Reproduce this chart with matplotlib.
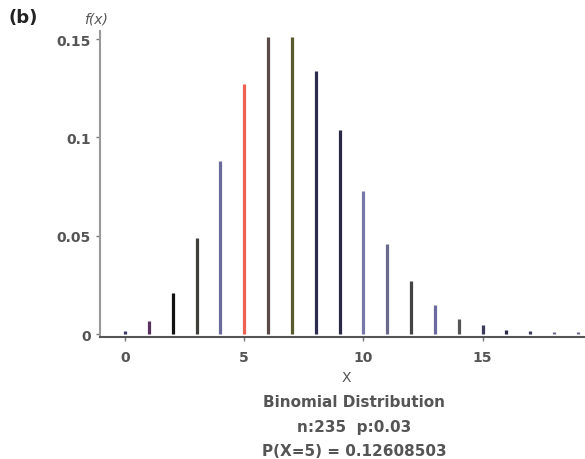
import matplotlib
matplotlib.use("Agg")
import matplotlib.pyplot as plt

# values
xs = list(range(20))
probs = [0.0015, 0.0066, 0.021, 0.049, 0.088, 0.127, 0.151, 0.151, 0.134, 0.104,
         0.073, 0.046, 0.027, 0.015, 0.0077, 0.0045, 0.0022, 0.0014, 0.0012, 0.0012]
bar_colors = ['#3a3a6a', '#5a3060', '#111111', '#3f3f3a', '#6a6a9c', '#ee6050',
              '#5a4a48', '#5a5a30', '#2c2c50', '#2a2a48', '#7878a8', '#6a6a8c',
              '#444444', '#6a6aa0', '#555555', '#3a3a5a', '#2a2a48', '#3a3a5a',
              '#6a6a8c', '#6a6a8c']
xticks = [0, 5, 10, 15]
yticks = [0, 0.05, 0.1, 0.15]
yticklabels = ['0', '0.05', '0.1', '0.15']

gray = '#555555'
fig = plt.figure(figsize=(5.85, 4.6), dpi=100)
ax = fig.add_axes([0.171, 0.265, 0.829, 0.665])

ax.vlines(xs, 0, probs, colors=bar_colors, linewidth=2.3)

ax.set_xlim(-1.05, 19.3)
ax.set_ylim(-0.0015, 0.154)
ax.set_xticks(xticks)
ax.set_yticks(yticks)
ax.set_yticklabels(yticklabels)
for s in ['top', 'right']:
    ax.spines[s].set_visible(False)
ax.spines['left'].set_color('#999999')
ax.spines['left'].set_linewidth(1.5)
ax.spines['bottom'].set_color('#555555')
ax.spines['bottom'].set_linewidth(1.5)
ax.tick_params(length=3, width=1, colors='#777777', labelcolor=gray, labelsize=10)
ax.tick_params(axis='x', pad=6)
for lab in ax.get_xticklabels() + ax.get_yticklabels():
    lab.set_fontweight('bold')

fig.text(0.015, 0.96, '(b)', fontsize=13, fontweight='bold', color='#222222', va='center')
fig.text(0.143, 0.958, 'f(x)', fontsize=10, style='italic', color=gray, va='center')
fig.text(0.592, 0.178, 'X', fontsize=10, color=gray, ha='center', va='center')
fig.text(0.605, 0.124, 'Binomial Distribution', fontsize=11, fontweight='bold',
         color=gray, ha='center', va='center')
fig.text(0.605, 0.070, 'n:235  p:0.03', fontsize=11, fontweight='bold',
         color=gray, ha='center', va='center')
fig.text(0.605, 0.018, 'P(X=5) = 0.12608503', fontsize=11, fontweight='bold',
         color=gray, ha='center', va='center')

fig.savefig('out.png', dpi=100)
